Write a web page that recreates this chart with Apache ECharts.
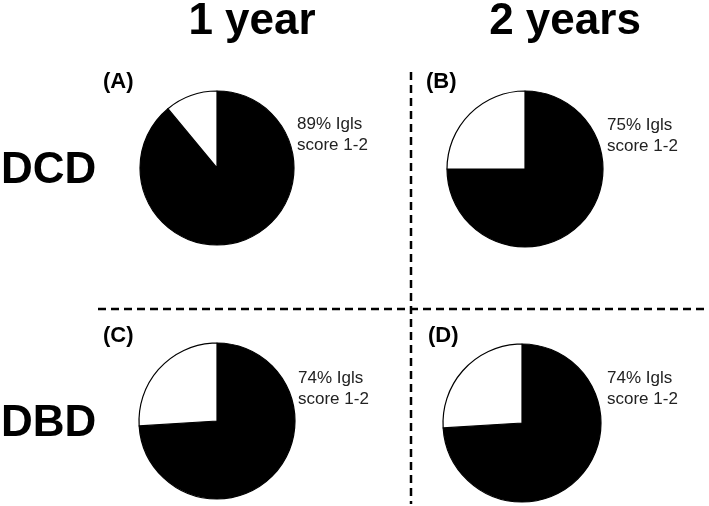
<!DOCTYPE html>
<html>
<head>
<meta charset="utf-8">
<script src="https://cdn.jsdelivr.net/npm/echarts@6/dist/echarts.min.js"></script>
<style>
html,body{margin:0;padding:0;background:#fff;}
#chart{width:709px;height:506px;}
</style>
</head>
<body>
<div id="chart"></div>
<script>
// Data
var panelLabels = ['(A)', '(B)', '(C)', '(D)'];
var columnLabels = ['1 year', '2 years'];
var rowLabels = ['DCD', 'DBD'];
var scoreLow = [89, 75, 74, 74];       // % Igls score 1-2 (black)
var scoreHigh = [11, 25, 26, 26];      // remainder (white)
var annotation = ['89% Igls\nscore 1-2', '75% Igls\nscore 1-2', '74% Igls\nscore 1-2', '74% Igls\nscore 1-2'];

// Layout (pixels)
var pieCenters = [[217, 168], [525, 169], [217, 421], [522, 423]];
var pieRadius = [77, 78, 78, 79];
var panelPos = [[103, 82], [426, 82], [103, 336], [428, 336]];
var annPos = [[297, 124], [607, 125], [298, 378], [607, 378]];

var FONT = 'Liberation Sans, Arial, sans-serif';

var series = [];
for (var i = 0; i < 4; i++) {
  series.push({
    type: 'pie',
    center: pieCenters[i],
    radius: [0, pieRadius[i]],
    startAngle: 90,
    clockwise: true,
    silent: true,
    animation: false,
    label: {show: false},
    labelLine: {show: false},
    itemStyle: {borderColor: '#000', borderWidth: 1.2},
    data: [
      {value: scoreLow[i], name: 'score 1-2', itemStyle: {color: '#000'}},
      {value: scoreHigh[i], name: 'other', itemStyle: {color: '#fff'}}
    ]
  });
}

var graphics = [];
// column headers
var colX = [252, 565];
for (var c = 0; c < 2; c++) {
  graphics.push({type: 'text', x: colX[c], y: 22, style: {text: columnLabels[c], fontSize: 44, fontWeight: 'bold', fontFamily: FONT, fill: '#000', align: 'center', verticalAlign: 'middle'}});
}
var rowY = [171, 424];
for (var r = 0; r < 2; r++) {
  graphics.push({type: 'text', x: 1, y: rowY[r], style: {text: rowLabels[r], fontSize: 44, fontWeight: 'bold', fontFamily: FONT, fill: '#000', align: 'left', verticalAlign: 'middle'}});
}
for (var p = 0; p < 4; p++) {
  graphics.push({type: 'text', x: panelPos[p][0], y: panelPos[p][1], style: {text: panelLabels[p], fontSize: 22, fontWeight: 'bold', fontFamily: FONT, fill: '#000', align: 'left', verticalAlign: 'middle'}});
  graphics.push({type: 'text', x: annPos[p][0], y: annPos[p][1] - 10, style: {text: annotation[p], fontSize: 17, lineHeight: 21, fontFamily: FONT, fill: '#222', align: 'left', verticalAlign: 'top'}});
}
// dashed dividers
graphics.push({type: 'line', shape: {x1: 98, y1: 309, x2: 709, y2: 309}, style: {stroke: '#000', lineWidth: 2.5, lineDash: [8, 5]}});
graphics.push({type: 'line', shape: {x1: 411, y1: 72, x2: 411, y2: 504}, style: {stroke: '#000', lineWidth: 2.5, lineDash: [8, 5]}});

var chart = echarts.init(document.getElementById('chart'), null, {renderer: 'canvas'});
chart.setOption({
  backgroundColor: '#fff',
  animation: false,
  series: series,
  graphic: graphics
});
</script>
</body>
</html>
